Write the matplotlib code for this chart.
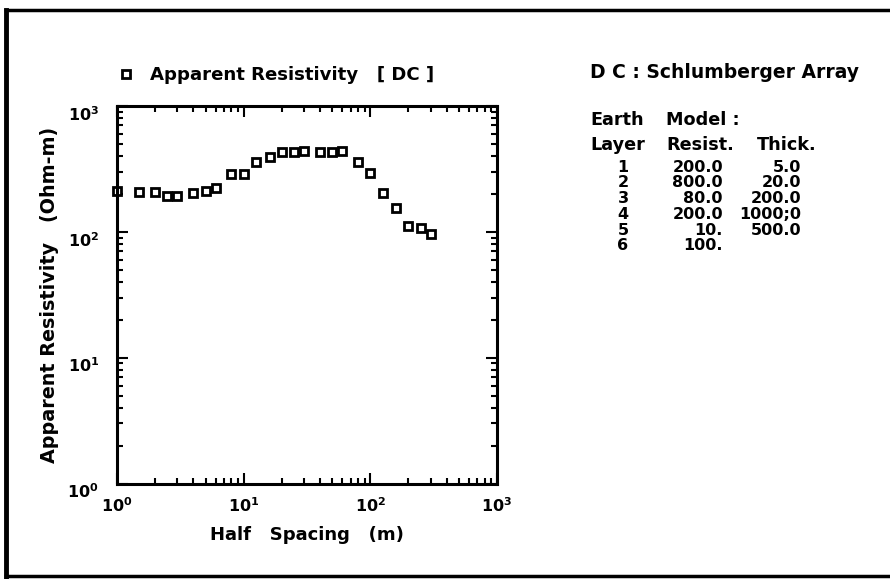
import matplotlib
matplotlib.use("Agg")
import matplotlib.pyplot as plt
from matplotlib.lines import Line2D
from matplotlib.transforms import ScaledTranslation

# Schlumberger half spacings (m) and apparent resistivity (Ohm-m)
half_spacing = [1, 1.5, 2, 2.5, 3, 4, 5, 6, 8, 10, 12.5, 16, 20, 25, 30,
                40, 50, 60, 80, 100, 125, 160, 200, 250, 300]
app_resist = [211, 208, 206, 194, 194, 202, 212, 222, 288, 286, 357, 395,
              433, 429, 441, 433, 433, 439, 357, 295, 202, 154, 111, 108, 96]

# Earth model table
layers = ["1", "2", "3", "4", "5", "6"]
resist = ["200.0", "800.0", "80.0", "200.0", "10.", "100."]
thick = ["5.0", "20.0", "200.0", "1000;0", "500.0", ""]

plt.rcParams['font.family'] = ['DejaVu Sans']
plt.rcParams['font.weight'] = 'bold'
plt.rcParams['axes.labelweight'] = 'bold'
plt.rcParams['mathtext.default'] = 'bf'

W, H = 890, 579
fig = plt.figure(figsize=(W / 100, H / 100), dpi=100)
ax = fig.add_axes([117 / W, 1 - 483.5 / H, 380 / W, 377.5 / H])

ax.plot(half_spacing, app_resist, linestyle='none', marker='s', markersize=5.2,
        markerfacecolor='white', markeredgecolor='black', markeredgewidth=2.0,
        label='Apparent Resistivity   [ DC ]', clip_on=False)

ax.set_xscale('log')
ax.set_yscale('log')
ax.set_xlim(1, 1000)
ax.set_ylim(1, 1000)

for s in ax.spines.values():
    s.set_linewidth(2.2)
ax.tick_params(which='both', direction='in', top=True, right=True, width=1.5)
ax.tick_params(which='major', length=8, labelsize=11.5)
ax.tick_params(which='minor', length=4)
ax.tick_params(axis='y', which='major', pad=13)
ax.tick_params(axis='x', which='major', pad=9)

ax.set_xlabel('Half   Spacing   (m)', fontsize=13, labelpad=8)
ax.set_ylabel('Apparent Resistivity   (Ohm-m)', fontsize=13.8, labelpad=6)

# nudge the y tick labels down a little, like the plotter output
for lab in ax.get_yticklabels():
    lab.set_transform(lab.get_transform() + ScaledTranslation(0, -5 / 72, fig.dpi_scale_trans))

ax.legend(loc='center left', bbox_to_anchor=(108 / W, 1 - 75 / H),
          bbox_transform=fig.transFigure, frameon=False, fontsize=13.1,
          handlelength=1.0, handletextpad=0.8, borderpad=0)

# right side annotation
fig.text(590 / W, 1 - 72 / H, 'D C : Schlumberger Array', fontsize=13.5, va='center')
fig.text(590 / W, 1 - 120 / H, 'Earth', fontsize=12.7, va='center')
fig.text(666 / W, 1 - 120 / H, 'Model :', fontsize=12.7, va='center')
fig.text(590 / W, 1 - 145 / H, 'Layer', fontsize=12.7, va='center')
fig.text(666 / W, 1 - 145 / H, 'Resist.', fontsize=12.7, va='center')
fig.text(757 / W, 1 - 145 / H, 'Thick.', fontsize=12.7, va='center')
for i in range(len(layers)):
    y = 1 - (167 + 15.8 * i) / H
    fig.text(623 / W, y, layers[i], fontsize=11.5, ha='center', va='center')
    fig.text(723 / W, y, resist[i], fontsize=11.5, ha='right', va='center')
    fig.text(801 / W, y, thick[i], fontsize=11.5, ha='right', va='center')

# page border
fig.add_artist(Line2D([6 / W, 6 / W], [1 - 577 / H, 1 - 10 / H], color='black', lw=3.5))
fig.add_artist(Line2D([6 / W, 1], [1 - 10 / H, 1 - 10 / H], color='black', lw=2.5))
fig.add_artist(Line2D([6 / W, 1], [1 - 576 / H, 1 - 576 / H], color='black', lw=2.5))

fig.savefig('out.png', dpi=100)
